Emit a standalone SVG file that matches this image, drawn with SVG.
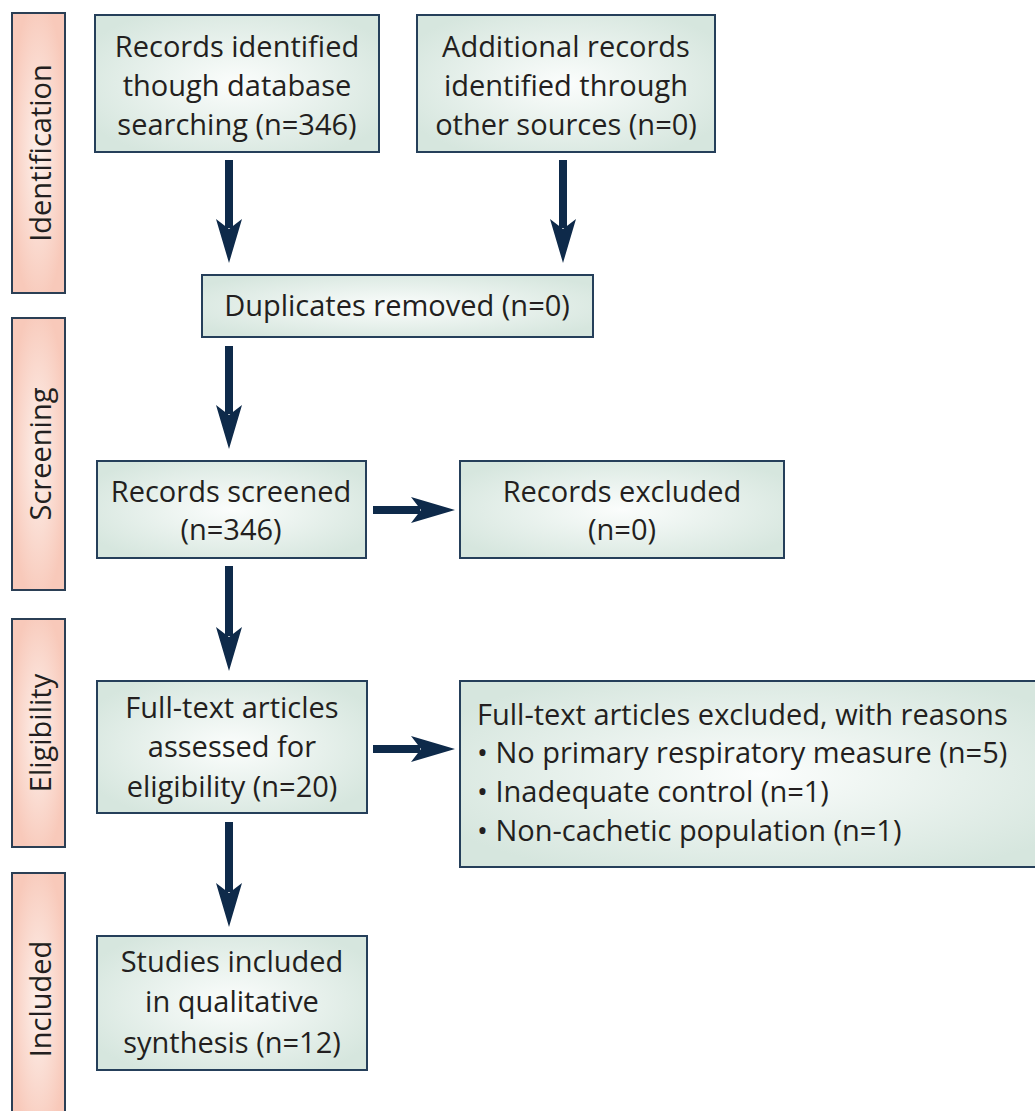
<svg xmlns="http://www.w3.org/2000/svg" width="1035" height="1111" viewBox="0 0 1035 1111">
<defs>
<radialGradient id="gbox" cx="50%" cy="50%" r="60%">
<stop offset="0" stop-color="#fbfdfc"/>
<stop offset="1" stop-color="#d6e6de"/>
</radialGradient>
<radialGradient id="gside" cx="50%" cy="50%" r="55%">
<stop offset="0" stop-color="#fdf1ec"/>
<stop offset="1" stop-color="#f8c9ba"/>
</radialGradient>
<marker id="ah" markerUnits="userSpaceOnUse" markerWidth="50" markerHeight="30" viewBox="-12 -15 50 30" refX="0" refY="0" orient="auto">
<path d="M35,0 L-9,-13 L1,0 L-9,13 Z" fill="#0e2a4a"/>
</marker>
<style>
.box{fill:url(#gbox);stroke:#253f5a;stroke-width:2}
.side{fill:url(#gside);stroke:#2b3f55;stroke-width:2}
.t{font-family:"Open Sans","Noto Sans",sans-serif;font-size:29px;fill:#231f20}
.c{text-anchor:middle}
.arr{stroke:#0e2a4a;stroke-width:8;fill:none;marker-end:url(#ah)}
</style>
</defs>
<rect width="1035" height="1111" fill="#ffffff"/>

<g id="phase-identification">
<rect class="side" x="12" y="13" width="53" height="280"/>
<text class="t c" transform="translate(51,153) rotate(-90)">Identification</text>
</g>
<g id="phase-screening">
<rect class="side" x="12" y="318" width="53" height="272"/>
<text class="t c" transform="translate(51,454) rotate(-90)">Screening</text>
</g>
<g id="phase-eligibility">
<rect class="side" x="12" y="619" width="53" height="228"/>
<text class="t c" transform="translate(51,733) rotate(-90)">Eligibility</text>
</g>
<g id="phase-included">
<rect class="side" x="12" y="873" width="53" height="260"/>
<text class="t c" transform="translate(51,999) rotate(-90)">Included</text>
</g>

<g id="records-identified">
<rect class="box" x="95" y="15" width="284" height="137"/>
<text class="t c" x="237" y="57">Records identified</text>
<text class="t c" x="237" y="96">though database</text>
<text class="t c" x="237" y="135">searching (n=346)</text>
</g>
<g id="additional-records">
<rect class="box" x="417" y="15" width="298" height="137"/>
<text class="t c" x="566" y="57">Additional records</text>
<text class="t c" x="566" y="96">identified through</text>
<text class="t c" x="566" y="135">other sources (n=0)</text>
</g>
<g id="duplicates-removed">
<rect class="box" x="202" y="275" width="391" height="62"/>
<text class="t c" x="397" y="316">Duplicates removed (n=0)</text>
</g>
<g id="records-screened">
<rect class="box" x="97" y="461" width="269" height="97"/>
<text class="t c" x="231" y="502">Records screened</text>
<text class="t c" x="231" y="540">(n=346)</text>
</g>
<g id="records-excluded">
<rect class="box" x="460" y="461" width="324" height="97"/>
<text class="t c" x="622" y="502">Records excluded</text>
<text class="t c" x="622" y="540">(n=0)</text>
</g>
<g id="fulltext-assessed">
<rect class="box" x="97" y="681" width="270" height="132"/>
<text class="t c" x="232" y="718">Full-text articles</text>
<text class="t c" x="232" y="757">assessed for</text>
<text class="t c" x="232" y="797">eligibility (n=20)</text>
</g>
<g id="fulltext-excluded">
<rect class="box" x="460" y="681" width="600" height="186"/>
<text class="t" x="477" y="725">Full-text articles excluded, with reasons</text>
<text class="t" x="477" y="763">• No primary respiratory measure (n=5)</text>
<text class="t" x="477" y="802">• Inadequate control (n=1)</text>
<text class="t" x="477" y="841">• Non-cachetic population (n=1)</text>
</g>
<g id="studies-included">
<rect class="box" x="97" y="936" width="270" height="134"/>
<text class="t c" x="232" y="972">Studies included</text>
<text class="t c" x="232" y="1012">in qualitative</text>
<text class="t c" x="232" y="1053">synthesis (n=12)</text>
</g>

<g id="connectors">
<line class="arr" x1="229" y1="160" x2="229" y2="228"/>
<line class="arr" x1="563" y1="160" x2="563" y2="228"/>
<line class="arr" x1="229" y1="346" x2="229" y2="414"/>
<line class="arr" x1="373" y1="510" x2="420" y2="510"/>
<line class="arr" x1="229" y1="566" x2="229" y2="636"/>
<line class="arr" x1="373" y1="749" x2="420" y2="749"/>
<line class="arr" x1="229" y1="822" x2="229" y2="892"/>
</g>
</svg>
